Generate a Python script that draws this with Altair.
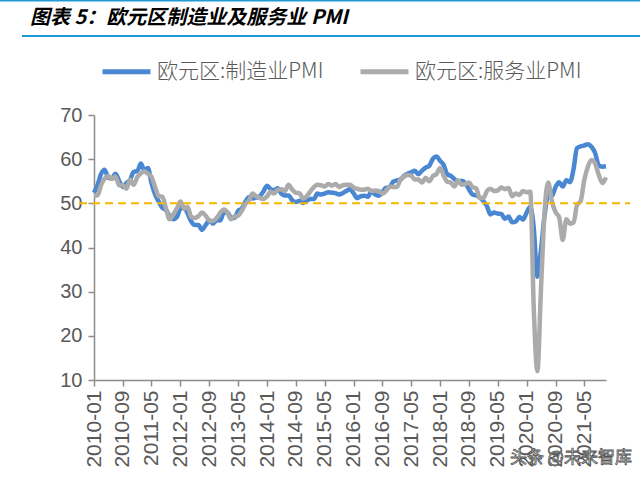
import altair as alt
import pandas as pd

# Monthly data 2010-01 .. 2021-11
months = pd.date_range("2010-01-01", "2021-11-01", freq="MS").strftime("%Y-%m-%d").tolist()

mfg_pmi = [
    52.4, 54.2, 56.6, 57.6, 55.8, 55.6, 56.7, 55.1, 53.7, 54.6, 55.3, 57.1,
    57.3, 59.0, 57.5, 58.0, 54.6, 52.0, 50.4, 49.0, 48.5, 47.1, 46.4, 46.9,
    48.8, 49.0, 47.7, 45.9, 45.1, 45.1, 44.0, 45.1, 46.1, 45.4, 46.2, 46.1,
    47.9, 47.9, 46.8, 46.7, 48.3, 48.8, 50.3, 51.4, 51.1, 51.3, 51.6, 52.7,
    54.0, 53.2, 53.0, 53.4, 52.2, 51.8, 51.8, 50.7, 50.3, 50.6, 50.1, 50.6,
    51.0, 51.0, 52.2, 52.0, 52.2, 52.5, 52.4, 52.3, 52.0, 52.3, 52.8, 53.2,
    52.3, 51.2, 51.6, 51.7, 51.5, 52.8, 52.0, 51.7, 52.6, 53.5, 53.7, 54.9,
    55.2, 55.4, 56.2, 56.7, 57.0, 57.4, 56.6, 57.4, 58.1, 58.5, 60.1, 60.6,
    59.6, 58.6, 56.6, 56.2, 55.5, 54.9, 55.1, 54.6, 53.2, 52.0, 51.8, 51.4,
    50.5, 49.3, 47.5, 47.9, 47.7, 47.6, 46.5, 47.0, 45.7, 45.9, 46.9, 46.3,
    47.9, 49.2, 44.5, 33.4, 39.4, 47.4, 51.8, 51.7, 53.7, 54.8, 53.8, 55.2,
    54.8, 57.9, 62.5, 62.9, 63.1, 63.4, 62.8, 61.4, 58.6, 58.3, 58.4,
]

svc_pmi = [
    51.7, 51.8, 54.1, 55.6, 56.2, 55.5, 56.1, 54.1, 54.1, 53.3, 55.4, 54.2,
    55.9, 56.8, 57.2, 56.7, 56.0, 53.7, 51.6, 51.5, 48.8, 46.4, 47.5, 48.8,
    50.4, 48.8, 49.2, 46.9, 46.7, 47.1, 47.9, 47.2, 46.1, 46.0, 46.7, 47.8,
    48.6, 47.9, 46.4, 47.0, 47.2, 48.3, 49.8, 50.7, 52.2, 51.6, 51.2, 51.0,
    51.6, 52.6, 52.2, 53.1, 53.2, 52.8, 54.2, 53.1, 52.4, 52.3, 51.1, 51.6,
    52.7, 53.7, 54.2, 54.1, 53.8, 54.4, 54.0, 54.4, 53.7, 54.1, 54.2, 54.2,
    53.6, 53.3, 53.1, 53.1, 53.3, 52.8, 52.9, 52.8, 52.2, 52.8, 53.8, 53.7,
    53.7, 55.5, 56.0, 56.4, 56.3, 55.4, 55.4, 54.7, 55.8, 55.0, 56.2, 56.6,
    58.0, 56.2, 54.9, 54.7, 53.8, 55.2, 54.2, 54.4, 54.7, 53.7, 53.4, 51.2,
    51.2, 52.8, 53.3, 52.8, 52.9, 53.6, 53.2, 53.5, 51.6, 52.2, 51.9, 52.8,
    52.5, 52.6, 26.4, 12.0, 30.5, 48.3, 54.7, 50.5, 48.0, 46.9, 41.7, 46.4,
    45.4, 45.7, 49.6, 50.5, 55.2, 58.3, 59.8, 59.0, 56.4, 54.6, 55.9,
]

series_names = ["欧元区:制造业PMI", "欧元区:服务业PMI"]
series_colors = ["#4A87D3", "#ABABAB"]
tick_months = ["2010-01", "2010-09", "2011-05", "2012-01", "2012-09", "2013-05",
               "2014-01", "2014-09", "2015-05", "2016-01", "2016-09", "2017-05",
               "2018-01", "2018-09", "2019-05", "2020-01", "2020-09", "2021-05"]
y_ticks = [10, 20, 30, 40, 50, 60, 70]
threshold = [50]
title_text = ["图表 5：欧元区制造业及服务业 PMI"]
watermark = ["头条 @未来智库"]

df = pd.DataFrame({
    "date": months * 2,
    "value": mfg_pmi + svc_pmi,
    "series": [series_names[0]] * len(months) + [series_names[1]] * len(months),
})

tick_values = [alt.DateTime(year=int(t[:4]), month=int(t[5:]), date=1, utc=True) for t in tick_months]

x_enc = alt.X(
    "date:T",
    scale=alt.Scale(type="utc", domain=[alt.DateTime(year=2010, month=1, date=1, utc=True),
                                        alt.DateTime(year=2021, month=11, date=1, utc=True)], nice=False),
    axis=alt.Axis(values=tick_values, format="%Y-%m", labelAngle=270, title=None, grid=False,
                  domainColor="#8C8C8C", domainWidth=1.5, tickColor="#8C8C8C", tickWidth=1.5,
                  tickSize=6, labelFont="Liberation Sans", labelFontSize=21, labelColor="#595959",
                  labelPadding=4),
)
y_enc = alt.Y(
    "value:Q",
    scale=alt.Scale(domain=[10, 70], nice=False, zero=False),
    axis=alt.Axis(values=y_ticks, title=None, grid=False, domainColor="#8C8C8C", domainWidth=1.5,
                  tickColor="#8C8C8C", tickWidth=1.5, tickSize=6, labelFont="Liberation Sans",
                  labelFontSize=20, labelColor="#595959", labelPadding=6),
)
color_enc = alt.Color(
    "series:N",
    scale=alt.Scale(domain=series_names, range=series_colors),
    legend=alt.Legend(orient="none", direction="horizontal", legendX=6, legendY=-70, title=None,
                      symbolType="stroke", symbolStrokeWidth=5, symbolSize=2300,
                      labelFont="Noto Sans CJK SC", labelFontSize=21, labelFontWeight=300,
                      labelColor="#595959", labelOffset=4, columnPadding=26, columns=2,
                      labelLimit=300),
)

base = alt.Chart(df)
line_mfg = base.transform_filter(alt.datum.series == series_names[0]).mark_line(
    strokeWidth=4.5, interpolate="monotone").encode(x=x_enc, y=y_enc, color=color_enc)
line_svc = base.transform_filter(alt.datum.series == series_names[1]).mark_line(
    strokeWidth=4.5, interpolate="monotone").encode(x=x_enc, y=y_enc, color=color_enc)

ref = alt.Chart(pd.DataFrame({"y": threshold})).mark_rule(
    color="#F5B700", strokeWidth=2, strokeDash=[8, 5]).encode(
    y=alt.Y("y:Q"), x=alt.value(-15), x2=alt.value(536))

top_rule = alt.Chart(pd.DataFrame({"k": [0]})).mark_rule(color="#1F9AD6", strokeWidth=2).encode(
    x=alt.value(-94), x2=alt.value(546), y=alt.value(-114.5))
title_rule = alt.Chart(pd.DataFrame({"k": [0]})).mark_rule(color="#1F9AD6", strokeWidth=2).encode(
    x=alt.value(-72), x2=alt.value(546), y=alt.value(-79))

title = alt.Chart(pd.DataFrame({"t": title_text})).mark_text(
    align="left", baseline="middle", font="Noto Sans CJK SC", fontSize=20, fontWeight="bold",
    fontStyle="italic", color="#000000").encode(text="t:N", x=alt.value(-64), y=alt.value(-97))

wm = alt.Chart(pd.DataFrame({"t": watermark})).mark_text(
    align="left", baseline="middle", font="Noto Sans CJK SC", fontSize=17, color="#FFFFFF",
    stroke="#555555", strokeWidth=0.8).encode(text="t:N", x=alt.value(416), y=alt.value(343))

chart = alt.layer(line_mfg, line_svc, ref, top_rule, title_rule, title, wm).properties(
    width=512, height=265,
    autosize=alt.AutoSizeParams(type="none"),
    padding={"left": 94, "top": 115, "right": 34, "bottom": 105},
    background="#FFFFFF",
).configure_view(stroke=None)

chart.save("out.html", embed_options={"renderer": "svg", "actions": False})
